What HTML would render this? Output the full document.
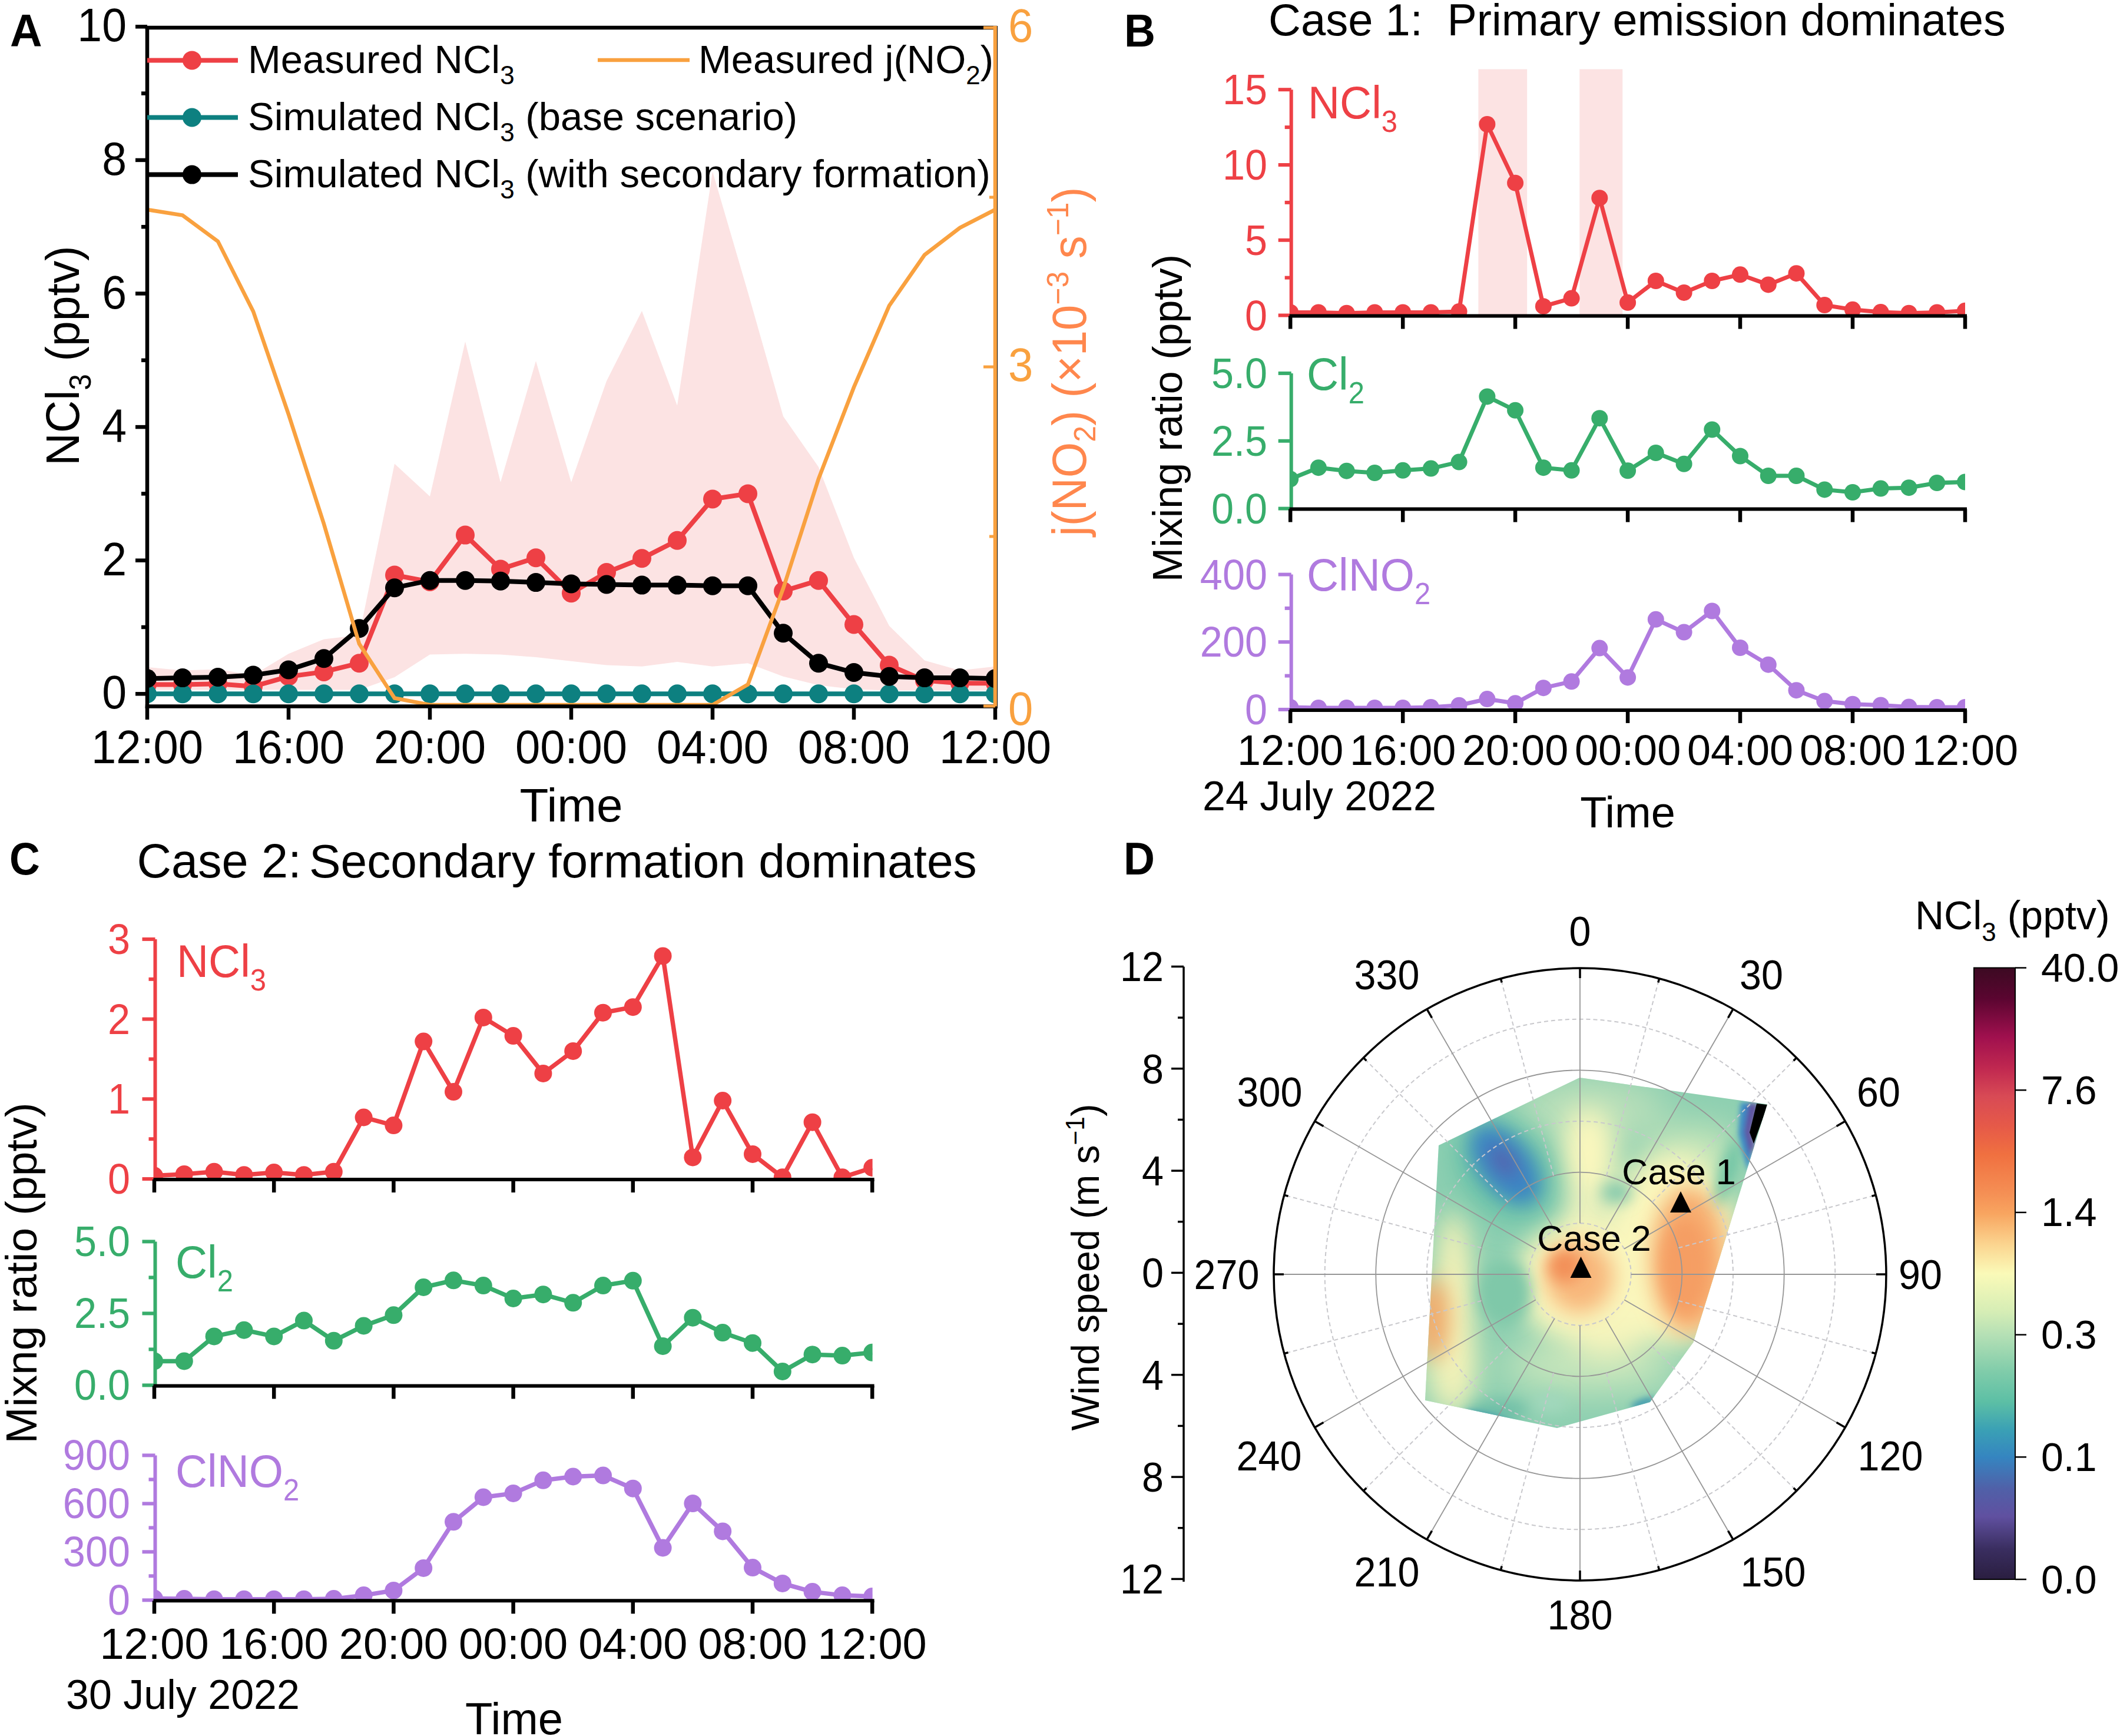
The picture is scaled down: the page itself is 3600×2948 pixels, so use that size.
<!DOCTYPE html>
<html><head><meta charset="utf-8"><style>html,body{margin:0;padding:0;background:#fff;}svg{display:block}text{font-family:"Liberation Sans",sans-serif}</style></head>
<body><svg width="3600" height="2948" viewBox="0 0 3600 2948">
<rect width="3600" height="2948" fill="#fff"/>
<defs><clipPath id="cA"><rect x="250" y="47" width="1440" height="1152.6"/></clipPath></defs>
<g clip-path="url(#cA)">
<polygon points="250.0,1133.0 310.0,1138.6 370.0,1136.4 430.0,1146.6 490.0,1110.3 550.0,1085.4 610.0,1078.6 670.0,787.4 730.0,842.9 790.0,580.1 850.0,819.1 910.0,612.9 970.0,819.1 1030.0,646.9 1090.0,528.0 1150.0,688.8 1210.0,291.2 1270.0,496.2 1330.0,707.0 1390.0,793.1 1450.0,947.2 1510.0,1062.7 1570.0,1121.6 1630.0,1138.6 1690.0,1131.8 1690.0,1172.6 1630.0,1172.6 1570.0,1172.6 1510.0,1172.6 1450.0,1170.4 1390.0,1163.6 1330.0,1148.8 1270.0,1126.2 1210.0,1131.8 1150.0,1123.9 1090.0,1131.8 1030.0,1129.6 970.0,1122.8 910.0,1116.0 850.0,1111.5 790.0,1110.3 730.0,1111.5 670.0,1150.0 610.0,1171.5 550.0,1171.5 490.0,1171.5 430.0,1171.5 370.0,1171.5 310.0,1171.5 250.0,1171.5" fill="#FCE3E3"/>
<polyline points="250.0,1162.4 310.0,1162.4 370.0,1161.3 430.0,1165.8 490.0,1148.8 550.0,1140.9 610.0,1126.2 670.0,976.6 730.0,988.0 790.0,908.6 850.0,966.4 910.0,947.2 970.0,1007.2 1030.0,972.1 1090.0,948.3 1150.0,917.7 1210.0,847.5 1270.0,838.4 1330.0,1003.8 1390.0,985.7 1450.0,1060.5 1510.0,1129.6 1570.0,1155.6 1630.0,1160.2 1690.0,1160.2" fill="none" stroke="#EE4045" stroke-width="8" stroke-linejoin="miter" />
<circle cx="250.0" cy="1162.4" r="16" fill="#EE4045"/>
<circle cx="310.0" cy="1162.4" r="16" fill="#EE4045"/>
<circle cx="370.0" cy="1161.3" r="16" fill="#EE4045"/>
<circle cx="430.0" cy="1165.8" r="16" fill="#EE4045"/>
<circle cx="490.0" cy="1148.8" r="16" fill="#EE4045"/>
<circle cx="550.0" cy="1140.9" r="16" fill="#EE4045"/>
<circle cx="610.0" cy="1126.2" r="16" fill="#EE4045"/>
<circle cx="670.0" cy="976.6" r="16" fill="#EE4045"/>
<circle cx="730.0" cy="988.0" r="16" fill="#EE4045"/>
<circle cx="790.0" cy="908.6" r="16" fill="#EE4045"/>
<circle cx="850.0" cy="966.4" r="16" fill="#EE4045"/>
<circle cx="910.0" cy="947.2" r="16" fill="#EE4045"/>
<circle cx="970.0" cy="1007.2" r="16" fill="#EE4045"/>
<circle cx="1030.0" cy="972.1" r="16" fill="#EE4045"/>
<circle cx="1090.0" cy="948.3" r="16" fill="#EE4045"/>
<circle cx="1150.0" cy="917.7" r="16" fill="#EE4045"/>
<circle cx="1210.0" cy="847.5" r="16" fill="#EE4045"/>
<circle cx="1270.0" cy="838.4" r="16" fill="#EE4045"/>
<circle cx="1330.0" cy="1003.8" r="16" fill="#EE4045"/>
<circle cx="1390.0" cy="985.7" r="16" fill="#EE4045"/>
<circle cx="1450.0" cy="1060.5" r="16" fill="#EE4045"/>
<circle cx="1510.0" cy="1129.6" r="16" fill="#EE4045"/>
<circle cx="1570.0" cy="1155.6" r="16" fill="#EE4045"/>
<circle cx="1630.0" cy="1160.2" r="16" fill="#EE4045"/>
<circle cx="1690.0" cy="1160.2" r="16" fill="#EE4045"/>
<polyline points="250.0,1178.3 310.0,1178.3 370.0,1178.3 430.0,1178.3 490.0,1178.3 550.0,1178.3 610.0,1178.3 670.0,1178.3 730.0,1178.3 790.0,1178.3 850.0,1178.3 910.0,1178.3 970.0,1178.3 1030.0,1178.3 1090.0,1178.3 1150.0,1178.3 1210.0,1178.3 1270.0,1178.3 1330.0,1178.3 1390.0,1178.3 1450.0,1178.3 1510.0,1178.3 1570.0,1178.3 1630.0,1178.3 1690.0,1178.3" fill="none" stroke="#0D8080" stroke-width="8" stroke-linejoin="miter" />
<circle cx="250.0" cy="1178.3" r="16" fill="#0D8080"/>
<circle cx="310.0" cy="1178.3" r="16" fill="#0D8080"/>
<circle cx="370.0" cy="1178.3" r="16" fill="#0D8080"/>
<circle cx="430.0" cy="1178.3" r="16" fill="#0D8080"/>
<circle cx="490.0" cy="1178.3" r="16" fill="#0D8080"/>
<circle cx="550.0" cy="1178.3" r="16" fill="#0D8080"/>
<circle cx="610.0" cy="1178.3" r="16" fill="#0D8080"/>
<circle cx="670.0" cy="1178.3" r="16" fill="#0D8080"/>
<circle cx="730.0" cy="1178.3" r="16" fill="#0D8080"/>
<circle cx="790.0" cy="1178.3" r="16" fill="#0D8080"/>
<circle cx="850.0" cy="1178.3" r="16" fill="#0D8080"/>
<circle cx="910.0" cy="1178.3" r="16" fill="#0D8080"/>
<circle cx="970.0" cy="1178.3" r="16" fill="#0D8080"/>
<circle cx="1030.0" cy="1178.3" r="16" fill="#0D8080"/>
<circle cx="1090.0" cy="1178.3" r="16" fill="#0D8080"/>
<circle cx="1150.0" cy="1178.3" r="16" fill="#0D8080"/>
<circle cx="1210.0" cy="1178.3" r="16" fill="#0D8080"/>
<circle cx="1270.0" cy="1178.3" r="16" fill="#0D8080"/>
<circle cx="1330.0" cy="1178.3" r="16" fill="#0D8080"/>
<circle cx="1390.0" cy="1178.3" r="16" fill="#0D8080"/>
<circle cx="1450.0" cy="1178.3" r="16" fill="#0D8080"/>
<circle cx="1510.0" cy="1178.3" r="16" fill="#0D8080"/>
<circle cx="1570.0" cy="1178.3" r="16" fill="#0D8080"/>
<circle cx="1630.0" cy="1178.3" r="16" fill="#0D8080"/>
<circle cx="1690.0" cy="1178.3" r="16" fill="#0D8080"/>
<polyline points="250.0,1152.2 310.0,1151.1 370.0,1150.0 430.0,1146.6 490.0,1137.5 550.0,1118.3 610.0,1067.3 670.0,998.2 730.0,985.7 790.0,985.7 850.0,986.8 910.0,989.1 970.0,991.4 1030.0,992.5 1090.0,993.6 1150.0,993.6 1210.0,994.8 1270.0,994.8 1330.0,1075.2 1390.0,1126.2 1450.0,1142.0 1510.0,1148.8 1570.0,1151.1 1630.0,1151.1 1690.0,1152.2" fill="none" stroke="#000" stroke-width="8" stroke-linejoin="miter" />
<circle cx="250.0" cy="1152.2" r="16" fill="#000"/>
<circle cx="310.0" cy="1151.1" r="16" fill="#000"/>
<circle cx="370.0" cy="1150.0" r="16" fill="#000"/>
<circle cx="430.0" cy="1146.6" r="16" fill="#000"/>
<circle cx="490.0" cy="1137.5" r="16" fill="#000"/>
<circle cx="550.0" cy="1118.3" r="16" fill="#000"/>
<circle cx="610.0" cy="1067.3" r="16" fill="#000"/>
<circle cx="670.0" cy="998.2" r="16" fill="#000"/>
<circle cx="730.0" cy="985.7" r="16" fill="#000"/>
<circle cx="790.0" cy="985.7" r="16" fill="#000"/>
<circle cx="850.0" cy="986.8" r="16" fill="#000"/>
<circle cx="910.0" cy="989.1" r="16" fill="#000"/>
<circle cx="970.0" cy="991.4" r="16" fill="#000"/>
<circle cx="1030.0" cy="992.5" r="16" fill="#000"/>
<circle cx="1090.0" cy="993.6" r="16" fill="#000"/>
<circle cx="1150.0" cy="993.6" r="16" fill="#000"/>
<circle cx="1210.0" cy="994.8" r="16" fill="#000"/>
<circle cx="1270.0" cy="994.8" r="16" fill="#000"/>
<circle cx="1330.0" cy="1075.2" r="16" fill="#000"/>
<circle cx="1390.0" cy="1126.2" r="16" fill="#000"/>
<circle cx="1450.0" cy="1142.0" r="16" fill="#000"/>
<circle cx="1510.0" cy="1148.8" r="16" fill="#000"/>
<circle cx="1570.0" cy="1151.1" r="16" fill="#000"/>
<circle cx="1630.0" cy="1151.1" r="16" fill="#000"/>
<circle cx="1690.0" cy="1152.2" r="16" fill="#000"/>
<polyline points="250.0,356.0 310.0,365.6 370.0,409.8 430.0,528.8 490.0,703.6 550.0,889.8 610.0,1093.3 670.0,1185.5 730.0,1197.0 790.0,1197.0 850.0,1197.0 910.0,1197.0 970.0,1197.0 1030.0,1197.0 1090.0,1197.0 1150.0,1197.0 1210.0,1197.0 1270.0,1162.4 1330.0,999.2 1390.0,813.0 1450.0,657.5 1510.0,519.2 1570.0,432.8 1630.0,386.8 1690.0,356.0" fill="none" stroke="#F9A13F" stroke-width="6.5" stroke-linejoin="miter" />
</g>
<line x1="246.8" y1="47.0" x2="1693.0" y2="47.0" stroke="#000" stroke-width="6.5" />
<line x1="250.0" y1="44.0" x2="250.0" y2="1203.0" stroke="#000" stroke-width="6.5" />
<line x1="246.8" y1="1199.6" x2="1690.0" y2="1199.6" stroke="#000" stroke-width="6.5" />
<line x1="1690.0" y1="44.0" x2="1690.0" y2="1203.0" stroke="#F9A13F" stroke-width="6.5" />
<line x1="1693.5" y1="44.0" x2="1693.5" y2="1203.0" stroke="#000" stroke-width="1" />
<line x1="230.0" y1="1178.3" x2="250.0" y2="1178.3" stroke="#000" stroke-width="6.5" />
<line x1="240.0" y1="1065.0" x2="250.0" y2="1065.0" stroke="#000" stroke-width="6.5" />
<line x1="230.0" y1="951.7" x2="250.0" y2="951.7" stroke="#000" stroke-width="6.5" />
<line x1="240.0" y1="838.4" x2="250.0" y2="838.4" stroke="#000" stroke-width="6.5" />
<line x1="230.0" y1="725.1" x2="250.0" y2="725.1" stroke="#000" stroke-width="6.5" />
<line x1="240.0" y1="611.8" x2="250.0" y2="611.8" stroke="#000" stroke-width="6.5" />
<line x1="230.0" y1="498.5" x2="250.0" y2="498.5" stroke="#000" stroke-width="6.5" />
<line x1="240.0" y1="385.2" x2="250.0" y2="385.2" stroke="#000" stroke-width="6.5" />
<line x1="230.0" y1="271.9" x2="250.0" y2="271.9" stroke="#000" stroke-width="6.5" />
<line x1="240.0" y1="158.6" x2="250.0" y2="158.6" stroke="#000" stroke-width="6.5" />
<line x1="230.0" y1="45.3" x2="250.0" y2="45.3" stroke="#000" stroke-width="6.5" />
<text transform="translate(215.0,1203.3) scale(0.94,1)" font-size="80" fill="#000" text-anchor="end" font-weight="400" >0</text>
<text transform="translate(215.0,976.7) scale(0.94,1)" font-size="80" fill="#000" text-anchor="end" font-weight="400" >2</text>
<text transform="translate(215.0,750.1) scale(0.94,1)" font-size="80" fill="#000" text-anchor="end" font-weight="400" >4</text>
<text transform="translate(215.0,523.5) scale(0.94,1)" font-size="80" fill="#000" text-anchor="end" font-weight="400" >6</text>
<text transform="translate(215.0,296.9) scale(0.94,1)" font-size="80" fill="#000" text-anchor="end" font-weight="400" >8</text>
<text transform="translate(215.0,70.3) scale(0.94,1)" font-size="80" fill="#000" text-anchor="end" font-weight="400" >10</text>
<line x1="250.0" y1="1199.6" x2="250.0" y2="1222.0" stroke="#000" stroke-width="6.5" />
<text transform="translate(250.0,1296.4) scale(0.95,1)" font-size="80" fill="#000" text-anchor="middle" font-weight="400" >12:00</text>
<line x1="490.0" y1="1199.6" x2="490.0" y2="1222.0" stroke="#000" stroke-width="6.5" />
<text transform="translate(490.0,1296.4) scale(0.95,1)" font-size="80" fill="#000" text-anchor="middle" font-weight="400" >16:00</text>
<line x1="730.0" y1="1199.6" x2="730.0" y2="1222.0" stroke="#000" stroke-width="6.5" />
<text transform="translate(730.0,1296.4) scale(0.95,1)" font-size="80" fill="#000" text-anchor="middle" font-weight="400" >20:00</text>
<line x1="970.0" y1="1199.6" x2="970.0" y2="1222.0" stroke="#000" stroke-width="6.5" />
<text transform="translate(970.0,1296.4) scale(0.95,1)" font-size="80" fill="#000" text-anchor="middle" font-weight="400" >00:00</text>
<line x1="1210.0" y1="1199.6" x2="1210.0" y2="1222.0" stroke="#000" stroke-width="6.5" />
<text transform="translate(1210.0,1296.4) scale(0.95,1)" font-size="80" fill="#000" text-anchor="middle" font-weight="400" >04:00</text>
<line x1="1450.0" y1="1199.6" x2="1450.0" y2="1222.0" stroke="#000" stroke-width="6.5" />
<text transform="translate(1450.0,1296.4) scale(0.95,1)" font-size="80" fill="#000" text-anchor="middle" font-weight="400" >08:00</text>
<line x1="1690.0" y1="1199.6" x2="1690.0" y2="1222.0" stroke="#000" stroke-width="6.5" />
<text transform="translate(1690.0,1296.4) scale(0.95,1)" font-size="80" fill="#000" text-anchor="middle" font-weight="400" >12:00</text>
<line x1="1670.0" y1="1199.0" x2="1690.0" y2="1199.0" stroke="#F9A13F" stroke-width="5" />
<line x1="1680.0" y1="911.0" x2="1690.0" y2="911.0" stroke="#F9A13F" stroke-width="5" />
<line x1="1670.0" y1="623.0" x2="1690.0" y2="623.0" stroke="#F9A13F" stroke-width="5" />
<line x1="1680.0" y1="335.0" x2="1690.0" y2="335.0" stroke="#F9A13F" stroke-width="5" />
<line x1="1670.0" y1="47.0" x2="1690.0" y2="47.0" stroke="#F9A13F" stroke-width="5" />
<text transform="translate(1712.0,1231.0) scale(0.95,1)" font-size="80" fill="#F9A13F" text-anchor="start" font-weight="400" >0</text>
<text transform="translate(1712.0,647.0) scale(0.95,1)" font-size="80" fill="#F9A13F" text-anchor="start" font-weight="400" >3</text>
<text transform="translate(1712.0,71.0) scale(0.95,1)" font-size="80" fill="#F9A13F" text-anchor="start" font-weight="400" >6</text>
<text x="970.0" y="1395.0" font-size="80" fill="#000" text-anchor="middle" font-weight="400" >Time</text>
<text transform="translate(134,604) rotate(-90) scale(0.96,1)" font-size="80" text-anchor="middle">NCl<tspan font-size="52" dy="20">3</tspan><tspan dy="-20"> (pptv)</tspan></text>
<text transform="translate(1844,614) rotate(-90) scale(0.96,1)" font-size="81" fill="#FF874D" text-anchor="middle">j(NO<tspan font-size="52" dy="16">2</tspan><tspan dy="-16">) (×10</tspan><tspan font-size="52" dy="-30">−3</tspan><tspan dy="30"> s</tspan><tspan font-size="52" dy="-30">−1</tspan><tspan dy="30">)</tspan></text>
<line x1="250.0" y1="102.4" x2="404.0" y2="102.4" stroke="#EE4045" stroke-width="8" />
<circle cx="326.0" cy="102.4" r="16" fill="#EE4045"/>
<line x1="250.0" y1="199.5" x2="404.0" y2="199.5" stroke="#0D8080" stroke-width="8" />
<circle cx="326.0" cy="199.5" r="16" fill="#0D8080"/>
<line x1="250.0" y1="296.6" x2="404.0" y2="296.6" stroke="#000" stroke-width="8" />
<circle cx="326.0" cy="296.6" r="16" fill="#000"/>
<line x1="1015.0" y1="102.0" x2="1171.0" y2="102.0" stroke="#F9A13F" stroke-width="6.5" />
<text transform="translate(421.0,123.6) scale(1.0,1)" font-size="67" fill="#000" text-anchor="start">Measured NCl<tspan font-size="44" dy="19">3</tspan><tspan dy="-19"></tspan></text>
<text transform="translate(1186.0,123.6) scale(1.0,1)" font-size="67" fill="#000" text-anchor="start">Measured j(NO<tspan font-size="44" dy="19">2</tspan><tspan dy="-19">)</tspan></text>
<text transform="translate(421.0,220.5) scale(1.0,1)" font-size="67" fill="#000" text-anchor="start">Simulated NCl<tspan font-size="44" dy="19">3</tspan><tspan dy="-19"> (base scenario)</tspan></text>
<text transform="translate(421.0,318.0) scale(1.0,1)" font-size="67" fill="#000" text-anchor="start">Simulated NCl<tspan font-size="44" dy="19">3</tspan><tspan dy="-19"> (with secondary formation)</tspan></text>
<text transform="translate(17.0,79.0) scale(0.97,1)" font-size="78" fill="#000" text-anchor="start" font-weight="700" >A</text>
<rect x="2510.4" y="117.5" width="82.8" height="417.5" fill="#FCE3E3"/>
<rect x="2682.3" y="117.5" width="73" height="417.5" fill="#FCE3E3"/>
<defs><clipPath id="c2191_535"><rect x="2191.2" y="55.5" width="1145.8" height="481.0"/></clipPath></defs>
<g clip-path="url(#c2191_535)">
<polyline points="2191.2,530.4 2238.9,530.4 2286.7,531.7 2334.4,530.4 2382.2,530.4 2429.9,530.4 2477.6,529.1 2525.4,211.0 2573.1,310.7 2620.9,520.2 2668.6,506.6 2716.3,336.2 2764.1,513.8 2811.8,477.0 2859.6,496.9 2907.3,477.0 2955.0,466.3 3002.8,483.4 3050.5,464.2 3098.3,518.1 3146.0,525.8 3193.7,530.1 3241.5,531.7 3289.2,530.4 3337.0,527.8" fill="none" stroke="#EE4045" stroke-width="7" stroke-linejoin="miter" />
<circle cx="2191.2" cy="530.4" r="14" fill="#EE4045"/>
<circle cx="2238.9" cy="530.4" r="14" fill="#EE4045"/>
<circle cx="2286.7" cy="531.7" r="14" fill="#EE4045"/>
<circle cx="2334.4" cy="530.4" r="14" fill="#EE4045"/>
<circle cx="2382.2" cy="530.4" r="14" fill="#EE4045"/>
<circle cx="2429.9" cy="530.4" r="14" fill="#EE4045"/>
<circle cx="2477.6" cy="529.1" r="14" fill="#EE4045"/>
<circle cx="2525.4" cy="211.0" r="14" fill="#EE4045"/>
<circle cx="2573.1" cy="310.7" r="14" fill="#EE4045"/>
<circle cx="2620.9" cy="520.2" r="14" fill="#EE4045"/>
<circle cx="2668.6" cy="506.6" r="14" fill="#EE4045"/>
<circle cx="2716.3" cy="336.2" r="14" fill="#EE4045"/>
<circle cx="2764.1" cy="513.8" r="14" fill="#EE4045"/>
<circle cx="2811.8" cy="477.0" r="14" fill="#EE4045"/>
<circle cx="2859.6" cy="496.9" r="14" fill="#EE4045"/>
<circle cx="2907.3" cy="477.0" r="14" fill="#EE4045"/>
<circle cx="2955.0" cy="466.3" r="14" fill="#EE4045"/>
<circle cx="3002.8" cy="483.4" r="14" fill="#EE4045"/>
<circle cx="3050.5" cy="464.2" r="14" fill="#EE4045"/>
<circle cx="3098.3" cy="518.1" r="14" fill="#EE4045"/>
<circle cx="3146.0" cy="525.8" r="14" fill="#EE4045"/>
<circle cx="3193.7" cy="530.1" r="14" fill="#EE4045"/>
<circle cx="3241.5" cy="531.7" r="14" fill="#EE4045"/>
<circle cx="3289.2" cy="530.4" r="14" fill="#EE4045"/>
<circle cx="3337.0" cy="527.8" r="14" fill="#EE4045"/>
</g>
<line x1="2192.7" y1="152.2" x2="2192.7" y2="537.5" stroke="#EE4045" stroke-width="6" />
<line x1="2170.7" y1="535.5" x2="2192.7" y2="535.5" stroke="#EE4045" stroke-width="6" />
<line x1="2170.7" y1="407.8" x2="2192.7" y2="407.8" stroke="#EE4045" stroke-width="6" />
<line x1="2170.7" y1="280.0" x2="2192.7" y2="280.0" stroke="#EE4045" stroke-width="6" />
<line x1="2170.7" y1="152.2" x2="2192.7" y2="152.2" stroke="#EE4045" stroke-width="6" />
<line x1="2181.7" y1="471.6" x2="2192.7" y2="471.6" stroke="#EE4045" stroke-width="6" />
<line x1="2181.7" y1="343.9" x2="2192.7" y2="343.9" stroke="#EE4045" stroke-width="6" />
<line x1="2181.7" y1="216.1" x2="2192.7" y2="216.1" stroke="#EE4045" stroke-width="6" />
<text transform="translate(2152.0,560.5) scale(0.95,1)" font-size="72" fill="#EE4045" text-anchor="end" font-weight="400" >0</text>
<text transform="translate(2152.0,432.8) scale(0.95,1)" font-size="72" fill="#EE4045" text-anchor="end" font-weight="400" >5</text>
<text transform="translate(2152.0,305.0) scale(0.95,1)" font-size="72" fill="#EE4045" text-anchor="end" font-weight="400" >10</text>
<text transform="translate(2152.0,177.2) scale(0.95,1)" font-size="72" fill="#EE4045" text-anchor="end" font-weight="400" >15</text>
<line x1="2189.7" y1="536.5" x2="3340.0" y2="536.5" stroke="#000" stroke-width="6" />
<line x1="2191.2" y1="536.5" x2="2191.2" y2="558.5" stroke="#000" stroke-width="6.5" />
<line x1="2382.2" y1="536.5" x2="2382.2" y2="558.5" stroke="#000" stroke-width="6.5" />
<line x1="2573.1" y1="536.5" x2="2573.1" y2="558.5" stroke="#000" stroke-width="6.5" />
<line x1="2764.1" y1="536.5" x2="2764.1" y2="558.5" stroke="#000" stroke-width="6.5" />
<line x1="2955.0" y1="536.5" x2="2955.0" y2="558.5" stroke="#000" stroke-width="6.5" />
<line x1="3146.0" y1="536.5" x2="3146.0" y2="558.5" stroke="#000" stroke-width="6.5" />
<line x1="3337.0" y1="536.5" x2="3337.0" y2="558.5" stroke="#000" stroke-width="6.5" />
<text transform="translate(2221.0,201.0) scale(0.96,1)" font-size="78" fill="#EE4045" text-anchor="start">NCl<tspan font-size="51" dy="23">3</tspan><tspan dy="-23"></tspan></text>
<defs><clipPath id="c2191_863"><rect x="2191.2" y="383.6" width="1145.8" height="481.0"/></clipPath></defs>
<g clip-path="url(#c2191_863)">
<polyline points="2191.2,813.5 2238.9,794.2 2286.7,799.7 2334.4,803.0 2382.2,798.8 2429.9,795.6 2477.6,784.6 2525.4,673.4 2573.1,696.8 2620.9,794.2 2668.6,798.8 2716.3,710.2 2764.1,799.3 2811.8,769.0 2859.6,787.8 2907.3,729.5 2955.0,774.5 3002.8,808.0 3050.5,808.0 3098.3,831.4 3146.0,836.0 3193.7,829.6 3241.5,828.2 3289.2,820.0 3337.0,818.6" fill="none" stroke="#37AD6B" stroke-width="7" stroke-linejoin="miter" />
<circle cx="2191.2" cy="813.5" r="14" fill="#37AD6B"/>
<circle cx="2238.9" cy="794.2" r="14" fill="#37AD6B"/>
<circle cx="2286.7" cy="799.7" r="14" fill="#37AD6B"/>
<circle cx="2334.4" cy="803.0" r="14" fill="#37AD6B"/>
<circle cx="2382.2" cy="798.8" r="14" fill="#37AD6B"/>
<circle cx="2429.9" cy="795.6" r="14" fill="#37AD6B"/>
<circle cx="2477.6" cy="784.6" r="14" fill="#37AD6B"/>
<circle cx="2525.4" cy="673.4" r="14" fill="#37AD6B"/>
<circle cx="2573.1" cy="696.8" r="14" fill="#37AD6B"/>
<circle cx="2620.9" cy="794.2" r="14" fill="#37AD6B"/>
<circle cx="2668.6" cy="798.8" r="14" fill="#37AD6B"/>
<circle cx="2716.3" cy="710.2" r="14" fill="#37AD6B"/>
<circle cx="2764.1" cy="799.3" r="14" fill="#37AD6B"/>
<circle cx="2811.8" cy="769.0" r="14" fill="#37AD6B"/>
<circle cx="2859.6" cy="787.8" r="14" fill="#37AD6B"/>
<circle cx="2907.3" cy="729.5" r="14" fill="#37AD6B"/>
<circle cx="2955.0" cy="774.5" r="14" fill="#37AD6B"/>
<circle cx="3002.8" cy="808.0" r="14" fill="#37AD6B"/>
<circle cx="3050.5" cy="808.0" r="14" fill="#37AD6B"/>
<circle cx="3098.3" cy="831.4" r="14" fill="#37AD6B"/>
<circle cx="3146.0" cy="836.0" r="14" fill="#37AD6B"/>
<circle cx="3193.7" cy="829.6" r="14" fill="#37AD6B"/>
<circle cx="3241.5" cy="828.2" r="14" fill="#37AD6B"/>
<circle cx="3289.2" cy="820.0" r="14" fill="#37AD6B"/>
<circle cx="3337.0" cy="818.6" r="14" fill="#37AD6B"/>
</g>
<line x1="2192.7" y1="633.9" x2="2192.7" y2="865.6" stroke="#37AD6B" stroke-width="6" />
<line x1="2170.7" y1="863.6" x2="2192.7" y2="863.6" stroke="#37AD6B" stroke-width="6" />
<line x1="2170.7" y1="748.8" x2="2192.7" y2="748.8" stroke="#37AD6B" stroke-width="6" />
<line x1="2170.7" y1="633.9" x2="2192.7" y2="633.9" stroke="#37AD6B" stroke-width="6" />
<text transform="translate(2152.0,888.6) scale(0.95,1)" font-size="72" fill="#37AD6B" text-anchor="end" font-weight="400" >0.0</text>
<text transform="translate(2152.0,773.8) scale(0.95,1)" font-size="72" fill="#37AD6B" text-anchor="end" font-weight="400" >2.5</text>
<text transform="translate(2152.0,658.9) scale(0.95,1)" font-size="72" fill="#37AD6B" text-anchor="end" font-weight="400" >5.0</text>
<line x1="2189.7" y1="864.6" x2="3340.0" y2="864.6" stroke="#000" stroke-width="6" />
<line x1="2191.2" y1="864.6" x2="2191.2" y2="886.6" stroke="#000" stroke-width="6.5" />
<line x1="2382.2" y1="864.6" x2="2382.2" y2="886.6" stroke="#000" stroke-width="6.5" />
<line x1="2573.1" y1="864.6" x2="2573.1" y2="886.6" stroke="#000" stroke-width="6.5" />
<line x1="2764.1" y1="864.6" x2="2764.1" y2="886.6" stroke="#000" stroke-width="6.5" />
<line x1="2955.0" y1="864.6" x2="2955.0" y2="886.6" stroke="#000" stroke-width="6.5" />
<line x1="3146.0" y1="864.6" x2="3146.0" y2="886.6" stroke="#000" stroke-width="6.5" />
<line x1="3337.0" y1="864.6" x2="3337.0" y2="886.6" stroke="#000" stroke-width="6.5" />
<text transform="translate(2219.0,662.0) scale(0.96,1)" font-size="78" fill="#37AD6B" text-anchor="start">Cl<tspan font-size="51" dy="23">2</tspan><tspan dy="-23"></tspan></text>
<defs><clipPath id="c2191_1204"><rect x="2191.2" y="724.9" width="1145.8" height="481.0"/></clipPath></defs>
<g clip-path="url(#c2191_1204)">
<polyline points="2191.2,1200.9 2238.9,1202.0 2286.7,1202.0 2334.4,1202.0 2382.2,1202.0 2429.9,1200.9 2477.6,1197.7 2525.4,1187.1 2573.1,1194.3 2620.9,1168.2 2668.6,1157.3 2716.3,1100.6 2764.1,1150.4 2811.8,1051.8 2859.6,1073.6 2907.3,1037.5 2955.0,1100.0 3002.8,1128.7 3050.5,1172.2 3098.3,1190.6 3146.0,1195.7 3193.7,1197.4 3241.5,1200.6 3289.2,1200.9 3337.0,1200.9" fill="none" stroke="#B07ADF" stroke-width="7" stroke-linejoin="miter" />
<circle cx="2191.2" cy="1200.9" r="14" fill="#B07ADF"/>
<circle cx="2238.9" cy="1202.0" r="14" fill="#B07ADF"/>
<circle cx="2286.7" cy="1202.0" r="14" fill="#B07ADF"/>
<circle cx="2334.4" cy="1202.0" r="14" fill="#B07ADF"/>
<circle cx="2382.2" cy="1202.0" r="14" fill="#B07ADF"/>
<circle cx="2429.9" cy="1200.9" r="14" fill="#B07ADF"/>
<circle cx="2477.6" cy="1197.7" r="14" fill="#B07ADF"/>
<circle cx="2525.4" cy="1187.1" r="14" fill="#B07ADF"/>
<circle cx="2573.1" cy="1194.3" r="14" fill="#B07ADF"/>
<circle cx="2620.9" cy="1168.2" r="14" fill="#B07ADF"/>
<circle cx="2668.6" cy="1157.3" r="14" fill="#B07ADF"/>
<circle cx="2716.3" cy="1100.6" r="14" fill="#B07ADF"/>
<circle cx="2764.1" cy="1150.4" r="14" fill="#B07ADF"/>
<circle cx="2811.8" cy="1051.8" r="14" fill="#B07ADF"/>
<circle cx="2859.6" cy="1073.6" r="14" fill="#B07ADF"/>
<circle cx="2907.3" cy="1037.5" r="14" fill="#B07ADF"/>
<circle cx="2955.0" cy="1100.0" r="14" fill="#B07ADF"/>
<circle cx="3002.8" cy="1128.7" r="14" fill="#B07ADF"/>
<circle cx="3050.5" cy="1172.2" r="14" fill="#B07ADF"/>
<circle cx="3098.3" cy="1190.6" r="14" fill="#B07ADF"/>
<circle cx="3146.0" cy="1195.7" r="14" fill="#B07ADF"/>
<circle cx="3193.7" cy="1197.4" r="14" fill="#B07ADF"/>
<circle cx="3241.5" cy="1200.6" r="14" fill="#B07ADF"/>
<circle cx="3289.2" cy="1200.9" r="14" fill="#B07ADF"/>
<circle cx="3337.0" cy="1200.9" r="14" fill="#B07ADF"/>
</g>
<line x1="2192.7" y1="975.6" x2="2192.7" y2="1206.9" stroke="#B07ADF" stroke-width="6" />
<line x1="2170.7" y1="1204.9" x2="2192.7" y2="1204.9" stroke="#B07ADF" stroke-width="6" />
<line x1="2170.7" y1="1090.2" x2="2192.7" y2="1090.2" stroke="#B07ADF" stroke-width="6" />
<line x1="2170.7" y1="975.6" x2="2192.7" y2="975.6" stroke="#B07ADF" stroke-width="6" />
<line x1="2181.7" y1="1147.6" x2="2192.7" y2="1147.6" stroke="#B07ADF" stroke-width="6" />
<line x1="2181.7" y1="1032.9" x2="2192.7" y2="1032.9" stroke="#B07ADF" stroke-width="6" />
<text transform="translate(2152.0,1229.9) scale(0.95,1)" font-size="72" fill="#B07ADF" text-anchor="end" font-weight="400" >0</text>
<text transform="translate(2152.0,1115.2) scale(0.95,1)" font-size="72" fill="#B07ADF" text-anchor="end" font-weight="400" >200</text>
<text transform="translate(2152.0,1000.6) scale(0.95,1)" font-size="72" fill="#B07ADF" text-anchor="end" font-weight="400" >400</text>
<line x1="2189.7" y1="1205.9" x2="3340.0" y2="1205.9" stroke="#000" stroke-width="6" />
<line x1="2191.2" y1="1205.9" x2="2191.2" y2="1227.9" stroke="#000" stroke-width="6.5" />
<line x1="2382.2" y1="1205.9" x2="2382.2" y2="1227.9" stroke="#000" stroke-width="6.5" />
<line x1="2573.1" y1="1205.9" x2="2573.1" y2="1227.9" stroke="#000" stroke-width="6.5" />
<line x1="2764.1" y1="1205.9" x2="2764.1" y2="1227.9" stroke="#000" stroke-width="6.5" />
<line x1="2955.0" y1="1205.9" x2="2955.0" y2="1227.9" stroke="#000" stroke-width="6.5" />
<line x1="3146.0" y1="1205.9" x2="3146.0" y2="1227.9" stroke="#000" stroke-width="6.5" />
<line x1="3337.0" y1="1205.9" x2="3337.0" y2="1227.9" stroke="#000" stroke-width="6.5" />
<text transform="translate(2219.0,1003.0) scale(0.96,1)" font-size="78" fill="#B07ADF" text-anchor="start">ClNO<tspan font-size="51" dy="23">2</tspan><tspan dy="-23"></tspan></text>
<text x="2191.2" y="1299.4" font-size="72" fill="#000" text-anchor="middle" font-weight="400" >12:00</text>
<text x="2382.2" y="1299.4" font-size="72" fill="#000" text-anchor="middle" font-weight="400" >16:00</text>
<text x="2573.1" y="1299.4" font-size="72" fill="#000" text-anchor="middle" font-weight="400" >20:00</text>
<text x="2764.1" y="1299.4" font-size="72" fill="#000" text-anchor="middle" font-weight="400" >00:00</text>
<text x="2955.0" y="1299.4" font-size="72" fill="#000" text-anchor="middle" font-weight="400" >04:00</text>
<text x="3146.0" y="1299.4" font-size="72" fill="#000" text-anchor="middle" font-weight="400" >08:00</text>
<text x="3337.0" y="1299.4" font-size="72" fill="#000" text-anchor="middle" font-weight="400" >12:00</text>
<text x="2042.0" y="1376.0" font-size="70" fill="#000" text-anchor="start" font-weight="400" >24 July 2022</text>
<text x="2764.0" y="1405.0" font-size="74" fill="#000" text-anchor="middle" font-weight="400" >Time</text>
<text transform="translate(2007,710) rotate(-90)" font-size="70" text-anchor="middle">Mixing ratio (pptv)</text>
<text x="2154.0" y="60.1" font-size="76" fill="#000" text-anchor="start" font-weight="400" >Case 1:</text>
<text x="2457.5" y="60.1" font-size="75.5" fill="#000" text-anchor="start" font-weight="400" >Primary emission dominates</text>
<text transform="translate(1909.0,79.0) scale(0.94,1)" font-size="78" fill="#000" text-anchor="start" font-weight="700" >B</text>
<defs><clipPath id="c262_2002"><rect x="262.0" y="1522.0" width="1219.6" height="481.0"/></clipPath></defs>
<g clip-path="url(#c262_2002)">
<polyline points="262.0,1996.6 312.8,1993.9 363.6,1989.8 414.4,1995.2 465.2,1991.1 516.0,1995.2 566.8,1989.8 617.6,1897.5 668.4,1911.1 719.2,1768.6 770.0,1854.1 820.8,1727.9 871.6,1759.1 922.4,1822.9 973.2,1784.9 1024.0,1719.7 1074.8,1710.2 1125.6,1623.4 1176.4,1965.4 1227.2,1869.0 1278.0,1959.9 1328.8,1999.3 1379.6,1905.7 1430.4,1999.3 1481.2,1983.0" fill="none" stroke="#EE4045" stroke-width="7.5" stroke-linejoin="miter" />
<circle cx="262.0" cy="1996.6" r="15" fill="#EE4045"/>
<circle cx="312.8" cy="1993.9" r="15" fill="#EE4045"/>
<circle cx="363.6" cy="1989.8" r="15" fill="#EE4045"/>
<circle cx="414.4" cy="1995.2" r="15" fill="#EE4045"/>
<circle cx="465.2" cy="1991.1" r="15" fill="#EE4045"/>
<circle cx="516.0" cy="1995.2" r="15" fill="#EE4045"/>
<circle cx="566.8" cy="1989.8" r="15" fill="#EE4045"/>
<circle cx="617.6" cy="1897.5" r="15" fill="#EE4045"/>
<circle cx="668.4" cy="1911.1" r="15" fill="#EE4045"/>
<circle cx="719.2" cy="1768.6" r="15" fill="#EE4045"/>
<circle cx="770.0" cy="1854.1" r="15" fill="#EE4045"/>
<circle cx="820.8" cy="1727.9" r="15" fill="#EE4045"/>
<circle cx="871.6" cy="1759.1" r="15" fill="#EE4045"/>
<circle cx="922.4" cy="1822.9" r="15" fill="#EE4045"/>
<circle cx="973.2" cy="1784.9" r="15" fill="#EE4045"/>
<circle cx="1024.0" cy="1719.7" r="15" fill="#EE4045"/>
<circle cx="1074.8" cy="1710.2" r="15" fill="#EE4045"/>
<circle cx="1125.6" cy="1623.4" r="15" fill="#EE4045"/>
<circle cx="1176.4" cy="1965.4" r="15" fill="#EE4045"/>
<circle cx="1227.2" cy="1869.0" r="15" fill="#EE4045"/>
<circle cx="1278.0" cy="1959.9" r="15" fill="#EE4045"/>
<circle cx="1328.8" cy="1999.3" r="15" fill="#EE4045"/>
<circle cx="1379.6" cy="1905.7" r="15" fill="#EE4045"/>
<circle cx="1430.4" cy="1999.3" r="15" fill="#EE4045"/>
<circle cx="1481.2" cy="1983.0" r="15" fill="#EE4045"/>
</g>
<line x1="263.5" y1="1594.9" x2="263.5" y2="2004.0" stroke="#EE4045" stroke-width="6" />
<line x1="241.5" y1="2002.0" x2="263.5" y2="2002.0" stroke="#EE4045" stroke-width="6" />
<line x1="241.5" y1="1866.3" x2="263.5" y2="1866.3" stroke="#EE4045" stroke-width="6" />
<line x1="241.5" y1="1730.6" x2="263.5" y2="1730.6" stroke="#EE4045" stroke-width="6" />
<line x1="241.5" y1="1594.9" x2="263.5" y2="1594.9" stroke="#EE4045" stroke-width="6" />
<line x1="252.5" y1="1934.2" x2="263.5" y2="1934.2" stroke="#EE4045" stroke-width="6" />
<line x1="252.5" y1="1798.5" x2="263.5" y2="1798.5" stroke="#EE4045" stroke-width="6" />
<line x1="252.5" y1="1662.8" x2="263.5" y2="1662.8" stroke="#EE4045" stroke-width="6" />
<text transform="translate(221.0,2027.0) scale(0.95,1)" font-size="72" fill="#EE4045" text-anchor="end" font-weight="400" >0</text>
<text transform="translate(221.0,1891.3) scale(0.95,1)" font-size="72" fill="#EE4045" text-anchor="end" font-weight="400" >1</text>
<text transform="translate(221.0,1755.6) scale(0.95,1)" font-size="72" fill="#EE4045" text-anchor="end" font-weight="400" >2</text>
<text transform="translate(221.0,1619.9) scale(0.95,1)" font-size="72" fill="#EE4045" text-anchor="end" font-weight="400" >3</text>
<line x1="260.5" y1="2003.0" x2="1484.6" y2="2003.0" stroke="#000" stroke-width="6" />
<line x1="262.0" y1="2003.0" x2="262.0" y2="2025.0" stroke="#000" stroke-width="6.5" />
<line x1="465.2" y1="2003.0" x2="465.2" y2="2025.0" stroke="#000" stroke-width="6.5" />
<line x1="668.4" y1="2003.0" x2="668.4" y2="2025.0" stroke="#000" stroke-width="6.5" />
<line x1="871.6" y1="2003.0" x2="871.6" y2="2025.0" stroke="#000" stroke-width="6.5" />
<line x1="1074.8" y1="2003.0" x2="1074.8" y2="2025.0" stroke="#000" stroke-width="6.5" />
<line x1="1278.0" y1="2003.0" x2="1278.0" y2="2025.0" stroke="#000" stroke-width="6.5" />
<line x1="1481.2" y1="2003.0" x2="1481.2" y2="2025.0" stroke="#000" stroke-width="6.5" />
<text transform="translate(300.0,1659.0) scale(0.96,1)" font-size="78" fill="#EE4045" text-anchor="start">NCl<tspan font-size="51" dy="23">3</tspan><tspan dy="-23"></tspan></text>
<defs><clipPath id="c262_2352"><rect x="262.0" y="1872.4" width="1219.6" height="481.0"/></clipPath></defs>
<g clip-path="url(#c262_2352)">
<polyline points="262.0,2311.4 312.8,2311.4 363.6,2269.4 414.4,2258.7 465.2,2269.4 516.0,2242.6 566.8,2276.8 617.6,2251.4 668.4,2233.3 719.2,2186.0 770.0,2174.3 820.8,2183.1 871.6,2205.0 922.4,2198.2 973.2,2212.3 1024.0,2183.1 1074.8,2174.8 1125.6,2286.0 1176.4,2237.7 1227.2,2263.1 1278.0,2280.7 1328.8,2329.0 1379.6,2300.2 1430.4,2302.1 1481.2,2296.8" fill="none" stroke="#37AD6B" stroke-width="7.5" stroke-linejoin="miter" />
<circle cx="262.0" cy="2311.4" r="15" fill="#37AD6B"/>
<circle cx="312.8" cy="2311.4" r="15" fill="#37AD6B"/>
<circle cx="363.6" cy="2269.4" r="15" fill="#37AD6B"/>
<circle cx="414.4" cy="2258.7" r="15" fill="#37AD6B"/>
<circle cx="465.2" cy="2269.4" r="15" fill="#37AD6B"/>
<circle cx="516.0" cy="2242.6" r="15" fill="#37AD6B"/>
<circle cx="566.8" cy="2276.8" r="15" fill="#37AD6B"/>
<circle cx="617.6" cy="2251.4" r="15" fill="#37AD6B"/>
<circle cx="668.4" cy="2233.3" r="15" fill="#37AD6B"/>
<circle cx="719.2" cy="2186.0" r="15" fill="#37AD6B"/>
<circle cx="770.0" cy="2174.3" r="15" fill="#37AD6B"/>
<circle cx="820.8" cy="2183.1" r="15" fill="#37AD6B"/>
<circle cx="871.6" cy="2205.0" r="15" fill="#37AD6B"/>
<circle cx="922.4" cy="2198.2" r="15" fill="#37AD6B"/>
<circle cx="973.2" cy="2212.3" r="15" fill="#37AD6B"/>
<circle cx="1024.0" cy="2183.1" r="15" fill="#37AD6B"/>
<circle cx="1074.8" cy="2174.8" r="15" fill="#37AD6B"/>
<circle cx="1125.6" cy="2286.0" r="15" fill="#37AD6B"/>
<circle cx="1176.4" cy="2237.7" r="15" fill="#37AD6B"/>
<circle cx="1227.2" cy="2263.1" r="15" fill="#37AD6B"/>
<circle cx="1278.0" cy="2280.7" r="15" fill="#37AD6B"/>
<circle cx="1328.8" cy="2329.0" r="15" fill="#37AD6B"/>
<circle cx="1379.6" cy="2300.2" r="15" fill="#37AD6B"/>
<circle cx="1430.4" cy="2302.1" r="15" fill="#37AD6B"/>
<circle cx="1481.2" cy="2296.8" r="15" fill="#37AD6B"/>
</g>
<line x1="263.5" y1="2108.4" x2="263.5" y2="2354.4" stroke="#37AD6B" stroke-width="6" />
<line x1="241.5" y1="2352.4" x2="263.5" y2="2352.4" stroke="#37AD6B" stroke-width="6" />
<line x1="241.5" y1="2230.4" x2="263.5" y2="2230.4" stroke="#37AD6B" stroke-width="6" />
<line x1="241.5" y1="2108.4" x2="263.5" y2="2108.4" stroke="#37AD6B" stroke-width="6" />
<line x1="252.5" y1="2291.4" x2="263.5" y2="2291.4" stroke="#37AD6B" stroke-width="6" />
<line x1="252.5" y1="2169.4" x2="263.5" y2="2169.4" stroke="#37AD6B" stroke-width="6" />
<text transform="translate(221.0,2377.4) scale(0.95,1)" font-size="72" fill="#37AD6B" text-anchor="end" font-weight="400" >0.0</text>
<text transform="translate(221.0,2255.4) scale(0.95,1)" font-size="72" fill="#37AD6B" text-anchor="end" font-weight="400" >2.5</text>
<text transform="translate(221.0,2133.4) scale(0.95,1)" font-size="72" fill="#37AD6B" text-anchor="end" font-weight="400" >5.0</text>
<line x1="260.5" y1="2353.4" x2="1484.6" y2="2353.4" stroke="#000" stroke-width="6" />
<line x1="262.0" y1="2353.4" x2="262.0" y2="2375.4" stroke="#000" stroke-width="6.5" />
<line x1="465.2" y1="2353.4" x2="465.2" y2="2375.4" stroke="#000" stroke-width="6.5" />
<line x1="668.4" y1="2353.4" x2="668.4" y2="2375.4" stroke="#000" stroke-width="6.5" />
<line x1="871.6" y1="2353.4" x2="871.6" y2="2375.4" stroke="#000" stroke-width="6.5" />
<line x1="1074.8" y1="2353.4" x2="1074.8" y2="2375.4" stroke="#000" stroke-width="6.5" />
<line x1="1278.0" y1="2353.4" x2="1278.0" y2="2375.4" stroke="#000" stroke-width="6.5" />
<line x1="1481.2" y1="2353.4" x2="1481.2" y2="2375.4" stroke="#000" stroke-width="6.5" />
<text transform="translate(298.0,2170.0) scale(0.96,1)" font-size="78" fill="#37AD6B" text-anchor="start">Cl<tspan font-size="51" dy="23">2</tspan><tspan dy="-23"></tspan></text>
<defs><clipPath id="c262_2717"><rect x="262.0" y="2237.3" width="1219.6" height="481.0"/></clipPath></defs>
<g clip-path="url(#c262_2717)">
<polyline points="262.0,2714.6 312.8,2715.1 363.6,2715.7 414.4,2715.7 465.2,2715.7 516.0,2715.7 566.8,2715.1 617.6,2709.1 668.4,2700.9 719.2,2662.9 770.0,2584.3 820.8,2542.5 871.6,2535.9 922.4,2513.8 973.2,2507.5 1024.0,2505.6 1074.8,2527.7 1125.6,2628.5 1176.4,2553.1 1227.2,2600.4 1278.0,2662.1 1328.8,2688.9 1379.6,2703.1 1430.4,2709.1 1481.2,2711.0" fill="none" stroke="#B07ADF" stroke-width="7.5" stroke-linejoin="miter" />
<circle cx="262.0" cy="2714.6" r="15" fill="#B07ADF"/>
<circle cx="312.8" cy="2715.1" r="15" fill="#B07ADF"/>
<circle cx="363.6" cy="2715.7" r="15" fill="#B07ADF"/>
<circle cx="414.4" cy="2715.7" r="15" fill="#B07ADF"/>
<circle cx="465.2" cy="2715.7" r="15" fill="#B07ADF"/>
<circle cx="516.0" cy="2715.7" r="15" fill="#B07ADF"/>
<circle cx="566.8" cy="2715.1" r="15" fill="#B07ADF"/>
<circle cx="617.6" cy="2709.1" r="15" fill="#B07ADF"/>
<circle cx="668.4" cy="2700.9" r="15" fill="#B07ADF"/>
<circle cx="719.2" cy="2662.9" r="15" fill="#B07ADF"/>
<circle cx="770.0" cy="2584.3" r="15" fill="#B07ADF"/>
<circle cx="820.8" cy="2542.5" r="15" fill="#B07ADF"/>
<circle cx="871.6" cy="2535.9" r="15" fill="#B07ADF"/>
<circle cx="922.4" cy="2513.8" r="15" fill="#B07ADF"/>
<circle cx="973.2" cy="2507.5" r="15" fill="#B07ADF"/>
<circle cx="1024.0" cy="2505.6" r="15" fill="#B07ADF"/>
<circle cx="1074.8" cy="2527.7" r="15" fill="#B07ADF"/>
<circle cx="1125.6" cy="2628.5" r="15" fill="#B07ADF"/>
<circle cx="1176.4" cy="2553.1" r="15" fill="#B07ADF"/>
<circle cx="1227.2" cy="2600.4" r="15" fill="#B07ADF"/>
<circle cx="1278.0" cy="2662.1" r="15" fill="#B07ADF"/>
<circle cx="1328.8" cy="2688.9" r="15" fill="#B07ADF"/>
<circle cx="1379.6" cy="2703.1" r="15" fill="#B07ADF"/>
<circle cx="1430.4" cy="2709.1" r="15" fill="#B07ADF"/>
<circle cx="1481.2" cy="2711.0" r="15" fill="#B07ADF"/>
</g>
<line x1="263.5" y1="2471.4" x2="263.5" y2="2719.3" stroke="#B07ADF" stroke-width="6" />
<line x1="241.5" y1="2717.3" x2="263.5" y2="2717.3" stroke="#B07ADF" stroke-width="6" />
<line x1="241.5" y1="2635.3" x2="263.5" y2="2635.3" stroke="#B07ADF" stroke-width="6" />
<line x1="241.5" y1="2553.4" x2="263.5" y2="2553.4" stroke="#B07ADF" stroke-width="6" />
<line x1="241.5" y1="2471.4" x2="263.5" y2="2471.4" stroke="#B07ADF" stroke-width="6" />
<line x1="252.5" y1="2676.3" x2="263.5" y2="2676.3" stroke="#B07ADF" stroke-width="6" />
<line x1="252.5" y1="2594.4" x2="263.5" y2="2594.4" stroke="#B07ADF" stroke-width="6" />
<line x1="252.5" y1="2512.4" x2="263.5" y2="2512.4" stroke="#B07ADF" stroke-width="6" />
<text transform="translate(221.0,2742.3) scale(0.95,1)" font-size="72" fill="#B07ADF" text-anchor="end" font-weight="400" >0</text>
<text transform="translate(221.0,2660.3) scale(0.95,1)" font-size="72" fill="#B07ADF" text-anchor="end" font-weight="400" >300</text>
<text transform="translate(221.0,2578.4) scale(0.95,1)" font-size="72" fill="#B07ADF" text-anchor="end" font-weight="400" >600</text>
<text transform="translate(221.0,2496.4) scale(0.95,1)" font-size="72" fill="#B07ADF" text-anchor="end" font-weight="400" >900</text>
<line x1="260.5" y1="2718.3" x2="1484.6" y2="2718.3" stroke="#000" stroke-width="6" />
<line x1="262.0" y1="2718.3" x2="262.0" y2="2740.3" stroke="#000" stroke-width="6.5" />
<line x1="465.2" y1="2718.3" x2="465.2" y2="2740.3" stroke="#000" stroke-width="6.5" />
<line x1="668.4" y1="2718.3" x2="668.4" y2="2740.3" stroke="#000" stroke-width="6.5" />
<line x1="871.6" y1="2718.3" x2="871.6" y2="2740.3" stroke="#000" stroke-width="6.5" />
<line x1="1074.8" y1="2718.3" x2="1074.8" y2="2740.3" stroke="#000" stroke-width="6.5" />
<line x1="1278.0" y1="2718.3" x2="1278.0" y2="2740.3" stroke="#000" stroke-width="6.5" />
<line x1="1481.2" y1="2718.3" x2="1481.2" y2="2740.3" stroke="#000" stroke-width="6.5" />
<text transform="translate(298.0,2525.0) scale(0.96,1)" font-size="78" fill="#B07ADF" text-anchor="start">ClNO<tspan font-size="51" dy="23">2</tspan><tspan dy="-23"></tspan></text>
<text x="262.0" y="2817.0" font-size="74" fill="#000" text-anchor="middle" font-weight="400" >12:00</text>
<text x="465.2" y="2817.0" font-size="74" fill="#000" text-anchor="middle" font-weight="400" >16:00</text>
<text x="668.4" y="2817.0" font-size="74" fill="#000" text-anchor="middle" font-weight="400" >20:00</text>
<text x="871.6" y="2817.0" font-size="74" fill="#000" text-anchor="middle" font-weight="400" >00:00</text>
<text x="1074.8" y="2817.0" font-size="74" fill="#000" text-anchor="middle" font-weight="400" >04:00</text>
<text x="1278.0" y="2817.0" font-size="74" fill="#000" text-anchor="middle" font-weight="400" >08:00</text>
<text x="1481.2" y="2817.0" font-size="74" fill="#000" text-anchor="middle" font-weight="400" >12:00</text>
<text x="112.0" y="2902.0" font-size="70" fill="#000" text-anchor="start" font-weight="400" >30 July 2022</text>
<text x="873.0" y="2945.0" font-size="76" fill="#000" text-anchor="middle" font-weight="400" >Time</text>
<text transform="translate(62,2162) rotate(-90)" font-size="75" text-anchor="middle">Mixng ratio (pptv)</text>
<text x="232.5" y="1489.7" font-size="81" fill="#000" text-anchor="start" font-weight="400" >Case 2:</text>
<text x="525.0" y="1489.7" font-size="80.3" fill="#000" text-anchor="start" font-weight="400" >Secondary formation dominates</text>
<text transform="translate(16.0,1485.0) scale(0.92,1)" font-size="78" fill="#000" text-anchor="start" font-weight="700" >C</text>
<text transform="translate(1908.0,1485.0) scale(0.94,1)" font-size="78" fill="#000" text-anchor="start" font-weight="700" >D</text>
<defs><clipPath id="pc"><polygon points="2682.5,1830 3001,1875.3 2875.5,2279.4 2802,2381 2644,2425 2420,2378 2443,1945"/></clipPath><filter id="f4" x="-100%" y="-100%" width="300%" height="300%"><feGaussianBlur stdDeviation="4"/></filter><filter id="f6" x="-100%" y="-100%" width="300%" height="300%"><feGaussianBlur stdDeviation="6"/></filter><filter id="f12" x="-100%" y="-100%" width="300%" height="300%"><feGaussianBlur stdDeviation="12"/></filter><filter id="f16" x="-100%" y="-100%" width="300%" height="300%"><feGaussianBlur stdDeviation="16"/></filter><filter id="f18" x="-100%" y="-100%" width="300%" height="300%"><feGaussianBlur stdDeviation="18"/></filter><filter id="f22" x="-100%" y="-100%" width="300%" height="300%"><feGaussianBlur stdDeviation="22"/></filter><filter id="f26" x="-100%" y="-100%" width="300%" height="300%"><feGaussianBlur stdDeviation="26"/></filter><filter id="f30" x="-100%" y="-100%" width="300%" height="300%"><feGaussianBlur stdDeviation="30"/></filter><linearGradient id="cb" x1="0" y1="1" x2="0" y2="0"><stop offset="0" stop-color="#2A1E40"/><stop offset="0.05" stop-color="#3A2E60"/><stop offset="0.103" stop-color="#6050A0"/><stop offset="0.148" stop-color="#5060A8"/><stop offset="0.2" stop-color="#3585C0"/><stop offset="0.244" stop-color="#3AA0B5"/><stop offset="0.29" stop-color="#5CBFA5"/><stop offset="0.34" stop-color="#80CCAA"/><stop offset="0.4" stop-color="#B5E0B5"/><stop offset="0.437" stop-color="#D5EDB5"/><stop offset="0.5" stop-color="#FAFAB8"/><stop offset="0.547" stop-color="#FBD590"/><stop offset="0.598" stop-color="#F8A560"/><stop offset="0.63" stop-color="#F59055"/><stop offset="0.695" stop-color="#F07040"/><stop offset="0.74" stop-color="#E65A48"/><stop offset="0.79" stop-color="#D84A55"/><stop offset="0.836" stop-color="#C02850"/><stop offset="0.887" stop-color="#A0104E"/><stop offset="0.95" stop-color="#5A0530"/><stop offset="1" stop-color="#3C0A22"/></linearGradient></defs>
<g clip-path="url(#pc)">
<rect x="2380" y="1800" width="660" height="660" fill="#8DCFB1"/>
<g filter="url(#f30)">
<ellipse cx="2700" cy="1885" rx="130" ry="55" fill="#B9DFB9" transform="rotate(0 2700 1885)"/>
<ellipse cx="2880" cy="1960" rx="80" ry="50" fill="#C5E5B9" transform="rotate(0 2880 1960)"/>
<ellipse cx="2700" cy="2320" rx="150" ry="45" fill="#C8E6BB" transform="rotate(0 2700 2320)"/>
<ellipse cx="2460" cy="2330" rx="40" ry="60" fill="#D8ECBA" transform="rotate(0 2460 2330)"/>
</g>
<g filter="url(#f22)">
<ellipse cx="2697" cy="1965" rx="48" ry="85" fill="#FAF7BD" transform="rotate(0 2697 1965)"/>
<ellipse cx="2690" cy="2060" rx="35" ry="50" fill="#EEF2BD" transform="rotate(0 2690 2060)"/>
<ellipse cx="2675" cy="2175" rx="100" ry="105" fill="#FAF7BD" transform="rotate(0 2675 2175)"/>
<ellipse cx="2840" cy="2120" rx="115" ry="165" fill="#FAF7BD" transform="rotate(0 2840 2120)"/>
<ellipse cx="2468" cy="2230" rx="34" ry="175" fill="#F7F3B8" transform="rotate(0 2468 2230)"/>
<ellipse cx="2730" cy="2268" rx="70" ry="38" fill="#F5F4BC" transform="rotate(0 2730 2268)"/>
</g>
<g filter="url(#f18)">
<ellipse cx="2682" cy="2168" rx="58" ry="62" fill="#F8B77C" transform="rotate(0 2682 2168)"/>
<ellipse cx="2868" cy="2140" rx="64" ry="125" fill="#F7AC6E" transform="rotate(0 2868 2140)"/>
<ellipse cx="2434" cy="2240" rx="26" ry="70" fill="#F6A868" transform="rotate(0 2434 2240)"/>
</g>
<g filter="url(#f12)">
<ellipse cx="2657" cy="2150" rx="28" ry="28" fill="#F39058" transform="rotate(0 2657 2150)"/>
<ellipse cx="2862" cy="2150" rx="40" ry="80" fill="#F59E64" transform="rotate(0 2862 2150)"/>
</g>
<g filter="url(#f12)">
<ellipse cx="2745" cy="2025" rx="26" ry="18" fill="#86CAAD" transform="rotate(0 2745 2025)"/>
<ellipse cx="2555" cy="2195" rx="45" ry="55" fill="#7FC8A9" transform="rotate(0 2555 2195)"/>
<ellipse cx="2545" cy="2395" rx="50" ry="18" fill="#70BFA7" transform="rotate(0 2545 2395)"/>
<ellipse cx="2632" cy="2383" rx="30" ry="16" fill="#A2D8BD" transform="rotate(0 2632 2383)"/>
</g>
<g filter="url(#f26)">
<ellipse cx="2556" cy="1985" rx="95" ry="70" fill="#62BFA6" transform="rotate(50 2556 1985)"/>
</g>
<g filter="url(#f16)">
<ellipse cx="2556" cy="1978" rx="78" ry="44" fill="#3A84C4" transform="rotate(52 2556 1978)"/>
<ellipse cx="2553" cy="1972" rx="30" ry="14" fill="#5A56A8" transform="rotate(52 2553 1972)"/>
</g>
<g filter="url(#f6)">
<ellipse cx="2530" cy="2410" rx="45" ry="9" fill="#3D9AAE" transform="rotate(15 2530 2410)"/>
<ellipse cx="2790" cy="2383" rx="22" ry="7" fill="#3C98B0" transform="rotate(-20 2790 2383)"/>
</g>
<g filter="url(#f12)">
<ellipse cx="2935" cy="1990" rx="12" ry="60" fill="#62BFA2" transform="rotate(17 2935 1990)"/>
</g>
<g filter="url(#f4)">
<polygon points="2956,1872 2972,1873 2962,1920 2976,1960 2968,1990 2952,1925" fill="#3A8AC6"/>
<polygon points="2970,1873 2986,1874 2975,1922 2980,1945 2972,1965 2962,1922" fill="#6050A0"/>
</g>
<polygon points="2983,1874 3002,1876 2978,1942 2971,1923" fill="#000"/>
</g>
<circle cx="2683" cy="2164" r="86.7" fill="none" stroke="#C8C8CC" stroke-width="2" stroke-dasharray="7,5"/>
<circle cx="2683" cy="2164" r="260.0" fill="none" stroke="#C8C8CC" stroke-width="2" stroke-dasharray="7,5"/>
<circle cx="2683" cy="2164" r="433.3" fill="none" stroke="#C8C8CC" stroke-width="2" stroke-dasharray="7,5"/>
<circle cx="2683" cy="2164" r="173.3" fill="none" stroke="#969696" stroke-width="1.8"/>
<circle cx="2683" cy="2164" r="346.7" fill="none" stroke="#969696" stroke-width="1.8"/>
<line x1="2683.0" y1="2077.3" x2="2683.0" y2="1644.0" stroke="#969696" stroke-width="1.8" />
<line x1="2726.3" y1="2088.9" x2="2943.0" y2="1713.7" stroke="#969696" stroke-width="1.8" />
<line x1="2758.1" y1="2120.7" x2="3133.3" y2="1904.0" stroke="#969696" stroke-width="1.8" />
<line x1="2769.7" y1="2164.0" x2="3203.0" y2="2164.0" stroke="#969696" stroke-width="1.8" />
<line x1="2758.1" y1="2207.3" x2="3133.3" y2="2424.0" stroke="#969696" stroke-width="1.8" />
<line x1="2726.3" y1="2239.1" x2="2943.0" y2="2614.3" stroke="#969696" stroke-width="1.8" />
<line x1="2683.0" y1="2250.7" x2="2683.0" y2="2684.0" stroke="#969696" stroke-width="1.8" />
<line x1="2639.7" y1="2239.1" x2="2423.0" y2="2614.3" stroke="#969696" stroke-width="1.8" />
<line x1="2607.9" y1="2207.3" x2="2232.7" y2="2424.0" stroke="#969696" stroke-width="1.8" />
<line x1="2596.3" y1="2164.0" x2="2163.0" y2="2164.0" stroke="#969696" stroke-width="1.8" />
<line x1="2607.9" y1="2120.7" x2="2232.7" y2="1904.0" stroke="#969696" stroke-width="1.8" />
<line x1="2639.7" y1="2088.9" x2="2423.0" y2="1713.7" stroke="#969696" stroke-width="1.8" />
<line x1="2727.9" y1="1996.6" x2="2817.6" y2="1661.7" stroke="#C8C8CC" stroke-width="2" stroke-dasharray="7,5"/>
<line x1="2805.6" y1="2041.4" x2="3050.7" y2="1796.3" stroke="#C8C8CC" stroke-width="2" stroke-dasharray="7,5"/>
<line x1="2850.4" y1="2119.1" x2="3185.3" y2="2029.4" stroke="#C8C8CC" stroke-width="2" stroke-dasharray="7,5"/>
<line x1="2850.4" y1="2208.9" x2="3185.3" y2="2298.6" stroke="#C8C8CC" stroke-width="2" stroke-dasharray="7,5"/>
<line x1="2805.6" y1="2286.6" x2="3050.7" y2="2531.7" stroke="#C8C8CC" stroke-width="2" stroke-dasharray="7,5"/>
<line x1="2727.9" y1="2331.4" x2="2817.6" y2="2666.3" stroke="#C8C8CC" stroke-width="2" stroke-dasharray="7,5"/>
<line x1="2638.1" y1="2331.4" x2="2548.4" y2="2666.3" stroke="#C8C8CC" stroke-width="2" stroke-dasharray="7,5"/>
<line x1="2560.4" y1="2286.6" x2="2315.3" y2="2531.7" stroke="#C8C8CC" stroke-width="2" stroke-dasharray="7,5"/>
<line x1="2515.6" y1="2208.9" x2="2180.7" y2="2298.6" stroke="#C8C8CC" stroke-width="2" stroke-dasharray="7,5"/>
<line x1="2515.6" y1="2119.1" x2="2180.7" y2="2029.4" stroke="#C8C8CC" stroke-width="2" stroke-dasharray="7,5"/>
<line x1="2560.4" y1="2041.4" x2="2315.3" y2="1796.3" stroke="#C8C8CC" stroke-width="2" stroke-dasharray="7,5"/>
<line x1="2638.1" y1="1996.6" x2="2548.4" y2="1661.7" stroke="#C8C8CC" stroke-width="2" stroke-dasharray="7,5"/>
<circle cx="2683" cy="2164" r="520" fill="none" stroke="#000" stroke-width="3.5"/>
<line x1="2683.0" y1="1644.0" x2="2683.0" y2="1661.0" stroke="#000" stroke-width="3.5" />
<line x1="2817.6" y1="1661.7" x2="2815.8" y2="1668.5" stroke="#000" stroke-width="3.5" />
<line x1="2943.0" y1="1713.7" x2="2934.5" y2="1728.4" stroke="#000" stroke-width="3.5" />
<line x1="3050.7" y1="1796.3" x2="3045.7" y2="1801.3" stroke="#000" stroke-width="3.5" />
<line x1="3133.3" y1="1904.0" x2="3118.6" y2="1912.5" stroke="#000" stroke-width="3.5" />
<line x1="3185.3" y1="2029.4" x2="3178.5" y2="2031.2" stroke="#000" stroke-width="3.5" />
<line x1="3203.0" y1="2164.0" x2="3186.0" y2="2164.0" stroke="#000" stroke-width="3.5" />
<line x1="3185.3" y1="2298.6" x2="3178.5" y2="2296.8" stroke="#000" stroke-width="3.5" />
<line x1="3133.3" y1="2424.0" x2="3118.6" y2="2415.5" stroke="#000" stroke-width="3.5" />
<line x1="3050.7" y1="2531.7" x2="3045.7" y2="2526.7" stroke="#000" stroke-width="3.5" />
<line x1="2943.0" y1="2614.3" x2="2934.5" y2="2599.6" stroke="#000" stroke-width="3.5" />
<line x1="2817.6" y1="2666.3" x2="2815.8" y2="2659.5" stroke="#000" stroke-width="3.5" />
<line x1="2683.0" y1="2684.0" x2="2683.0" y2="2667.0" stroke="#000" stroke-width="3.5" />
<line x1="2548.4" y1="2666.3" x2="2550.2" y2="2659.5" stroke="#000" stroke-width="3.5" />
<line x1="2423.0" y1="2614.3" x2="2431.5" y2="2599.6" stroke="#000" stroke-width="3.5" />
<line x1="2315.3" y1="2531.7" x2="2320.3" y2="2526.7" stroke="#000" stroke-width="3.5" />
<line x1="2232.7" y1="2424.0" x2="2247.4" y2="2415.5" stroke="#000" stroke-width="3.5" />
<line x1="2180.7" y1="2298.6" x2="2187.5" y2="2296.8" stroke="#000" stroke-width="3.5" />
<line x1="2163.0" y1="2164.0" x2="2180.0" y2="2164.0" stroke="#000" stroke-width="3.5" />
<line x1="2180.7" y1="2029.4" x2="2187.5" y2="2031.2" stroke="#000" stroke-width="3.5" />
<line x1="2232.7" y1="1904.0" x2="2247.4" y2="1912.5" stroke="#000" stroke-width="3.5" />
<line x1="2315.3" y1="1796.3" x2="2320.3" y2="1801.3" stroke="#000" stroke-width="3.5" />
<line x1="2423.0" y1="1713.7" x2="2431.5" y2="1728.4" stroke="#000" stroke-width="3.5" />
<line x1="2548.4" y1="1661.7" x2="2550.2" y2="1668.5" stroke="#000" stroke-width="3.5" />
<polygon points="2836.0,2059.0 2872.0,2059.0 2854,2023.0" fill="#000"/>
<polygon points="2666.5,2170.0 2702.5,2170.0 2684.5,2134.0" fill="#000"/>
<text x="2851.0" y="2011.0" font-size="61" fill="#000" text-anchor="middle" font-weight="400" >Case 1</text>
<text x="2707.0" y="2124.0" font-size="61" fill="#000" text-anchor="middle" font-weight="400" >Case 2</text>
<text transform="translate(2683.0,1606.0) scale(0.95,1)" font-size="70" fill="#000" text-anchor="middle" font-weight="400" >0</text>
<text transform="translate(2991.0,1680.0) scale(0.95,1)" font-size="70" fill="#000" text-anchor="middle" font-weight="400" >30</text>
<text transform="translate(3190.0,1879.0) scale(0.95,1)" font-size="70" fill="#000" text-anchor="middle" font-weight="400" >60</text>
<text transform="translate(3261.0,2189.0) scale(0.95,1)" font-size="70" fill="#000" text-anchor="middle" font-weight="400" >90</text>
<text transform="translate(3210.0,2497.0) scale(0.95,1)" font-size="70" fill="#000" text-anchor="middle" font-weight="400" >120</text>
<text transform="translate(3011.0,2694.0) scale(0.95,1)" font-size="70" fill="#000" text-anchor="middle" font-weight="400" >150</text>
<text transform="translate(2683.0,2767.0) scale(0.95,1)" font-size="70" fill="#000" text-anchor="middle" font-weight="400" >180</text>
<text transform="translate(2355.0,2694.0) scale(0.95,1)" font-size="70" fill="#000" text-anchor="middle" font-weight="400" >210</text>
<text transform="translate(2155.0,2497.0) scale(0.95,1)" font-size="70" fill="#000" text-anchor="middle" font-weight="400" >240</text>
<text transform="translate(2083.0,2189.0) scale(0.95,1)" font-size="70" fill="#000" text-anchor="middle" font-weight="400" >270</text>
<text transform="translate(2156.0,1879.0) scale(0.95,1)" font-size="70" fill="#000" text-anchor="middle" font-weight="400" >300</text>
<text transform="translate(2355.0,1680.0) scale(0.95,1)" font-size="70" fill="#000" text-anchor="middle" font-weight="400" >330</text>
<line x1="2010.0" y1="1641.4" x2="2010.0" y2="2686.0" stroke="#000" stroke-width="3.5" />
<line x1="1989.0" y1="1641.4" x2="2010.0" y2="1641.4" stroke="#000" stroke-width="3.5" />
<text transform="translate(1976.0,1666.4) scale(0.95,1)" font-size="70" fill="#000" text-anchor="end" font-weight="400" >12</text>
<line x1="1989.0" y1="1814.7" x2="2010.0" y2="1814.7" stroke="#000" stroke-width="3.5" />
<text transform="translate(1976.0,1839.7) scale(0.95,1)" font-size="70" fill="#000" text-anchor="end" font-weight="400" >8</text>
<line x1="1989.0" y1="1988.1" x2="2010.0" y2="1988.1" stroke="#000" stroke-width="3.5" />
<text transform="translate(1976.0,2013.1) scale(0.95,1)" font-size="70" fill="#000" text-anchor="end" font-weight="400" >4</text>
<line x1="1989.0" y1="2161.4" x2="2010.0" y2="2161.4" stroke="#000" stroke-width="3.5" />
<text transform="translate(1976.0,2186.4) scale(0.95,1)" font-size="70" fill="#000" text-anchor="end" font-weight="400" >0</text>
<line x1="1989.0" y1="2334.7" x2="2010.0" y2="2334.7" stroke="#000" stroke-width="3.5" />
<text transform="translate(1976.0,2359.7) scale(0.95,1)" font-size="70" fill="#000" text-anchor="end" font-weight="400" >4</text>
<line x1="1989.0" y1="2508.1" x2="2010.0" y2="2508.1" stroke="#000" stroke-width="3.5" />
<text transform="translate(1976.0,2533.1) scale(0.95,1)" font-size="70" fill="#000" text-anchor="end" font-weight="400" >8</text>
<line x1="1989.0" y1="2681.4" x2="2010.0" y2="2681.4" stroke="#000" stroke-width="3.5" />
<text transform="translate(1976.0,2706.4) scale(0.95,1)" font-size="70" fill="#000" text-anchor="end" font-weight="400" >12</text>
<line x1="2000.0" y1="1728.1" x2="2010.0" y2="1728.1" stroke="#000" stroke-width="3.5" />
<line x1="2000.0" y1="1901.4" x2="2010.0" y2="1901.4" stroke="#000" stroke-width="3.5" />
<line x1="2000.0" y1="2074.7" x2="2010.0" y2="2074.7" stroke="#000" stroke-width="3.5" />
<line x1="2000.0" y1="2248.1" x2="2010.0" y2="2248.1" stroke="#000" stroke-width="3.5" />
<line x1="2000.0" y1="2421.4" x2="2010.0" y2="2421.4" stroke="#000" stroke-width="3.5" />
<line x1="2000.0" y1="2594.7" x2="2010.0" y2="2594.7" stroke="#000" stroke-width="3.5" />
<text transform="translate(1866,2152) rotate(-90) scale(0.965,1)" font-size="67" text-anchor="middle">Wind speed (m s<tspan font-size="44" dy="-25">−1</tspan><tspan dy="25">)</tspan></text>
<rect x="3352" y="1643.5" width="70" height="1038.5" fill="url(#cb)" stroke="#000" stroke-width="2"/>
<line x1="3422.0" y1="1643.5" x2="3441.0" y2="1643.5" stroke="#000" stroke-width="2.5" />
<text x="3466.0" y="1667.0" font-size="68" fill="#000" text-anchor="start" font-weight="400" >40.0</text>
<line x1="3422.0" y1="1851.2" x2="3441.0" y2="1851.2" stroke="#000" stroke-width="2.5" />
<text x="3466.0" y="1874.7" font-size="68" fill="#000" text-anchor="start" font-weight="400" >7.6</text>
<line x1="3422.0" y1="2058.9" x2="3441.0" y2="2058.9" stroke="#000" stroke-width="2.5" />
<text x="3466.0" y="2082.4" font-size="68" fill="#000" text-anchor="start" font-weight="400" >1.4</text>
<line x1="3422.0" y1="2266.6" x2="3441.0" y2="2266.6" stroke="#000" stroke-width="2.5" />
<text x="3466.0" y="2290.1" font-size="68" fill="#000" text-anchor="start" font-weight="400" >0.3</text>
<line x1="3422.0" y1="2474.3" x2="3441.0" y2="2474.3" stroke="#000" stroke-width="2.5" />
<text x="3466.0" y="2497.8" font-size="68" fill="#000" text-anchor="start" font-weight="400" >0.1</text>
<line x1="3422.0" y1="2682.0" x2="3441.0" y2="2682.0" stroke="#000" stroke-width="2.5" />
<text x="3466.0" y="2705.5" font-size="68" fill="#000" text-anchor="start" font-weight="400" >0.0</text>
<text transform="translate(3252.0,1578.0) scale(1.0,1)" font-size="68" fill="#000" text-anchor="start">NCl<tspan font-size="44" dy="20">3</tspan><tspan dy="-20"> (pptv)</tspan></text>
</svg></body></html>
